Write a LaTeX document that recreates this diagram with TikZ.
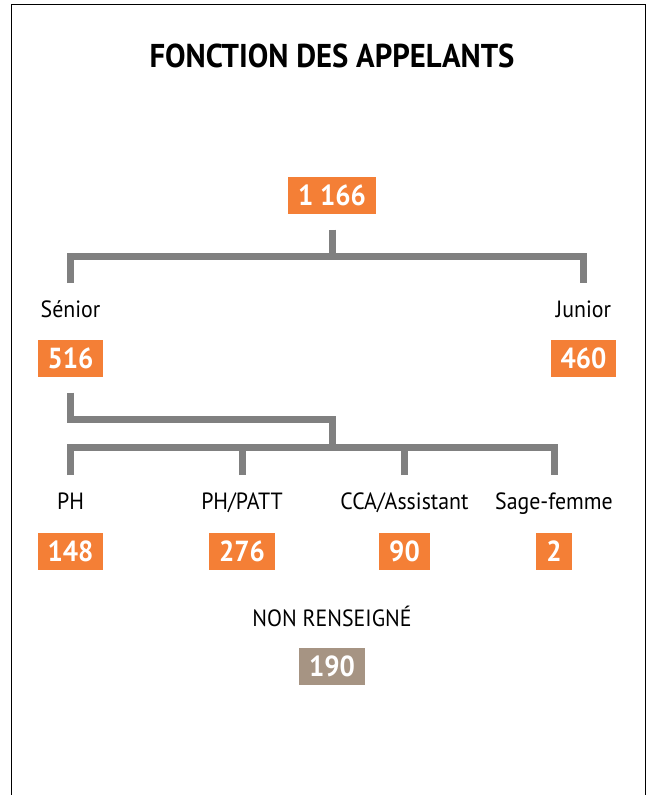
\documentclass[tikz,border=0pt]{standalone}
\usepackage{fontspec}
\setmainfont{PT Sans}[FakeStretch=0.93]
\usepackage{xcolor}
\usepackage{tikz}

\definecolor{boxorange}{RGB}{244,127,54}
\definecolor{boxtaupe}{RGB}{166,148,131}
\definecolor{bargrey}{RGB}{128,128,128}

\begin{document}
\begin{tikzpicture}[x=1pt, y=-1pt,
        num/.style={fill=boxorange, text=white, font=\fontsize{29}{34}\selectfont\bfseries,
            minimum height=37pt, inner xsep=10pt, inner ysep=0pt},
        lab/.style={anchor=base, font=\fontsize{23.5}{28}\selectfont},
        bar/.style={draw=bargrey, line width=7pt}]
    \useasboundingbox (0, 0) rectangle (653, 795);
    \draw[line width=1.5pt] (11.5, 795) -- (11.5, 4.5) -- (645.5, 4.5) -- (645.5, 795);

    \node[anchor=base, font=\fontsize{33}{38}\selectfont\bfseries] at (332, 67) (title) {FONCTION DES APPELANTS};

    \node[num] at (332, 195) (total) {1 166};
    \node[lab] at (70.5, 317) (senior) {Sénior};
    \node[lab] at (583.5, 317) (junior) {Junior};
    \node[num] at (70.5, 358) (nsenior) {516};
    \node[num] at (583.5, 358) (njunior) {460};

    \node[lab] at (70.5, 509) (ph) {PH};
    \node[lab] at (242, 509) (phpatt) {PH/PATT};
    \node[lab] at (404.5, 509) (cca) {CCA/Assistant};
    \node[lab] at (554, 509) (sage) {Sage-femme};
    \node[num] at (70.5, 551) (nph) {148};
    \node[num] at (242, 551) (nphpatt) {276};
    \node[num] at (404.5, 551) (ncca) {90};
    \node[num] at (554, 551) (nsage) {2};

    \node[lab] at (332, 626) (nr) {NON RENSEIGNÉ};
    \node[num, fill=boxtaupe] at (332, 666.5) (nnr) {190};

    % senior / junior
    \draw[bar] ([yshift=-16pt]total.south) -- ++(0, 27) coordinate (fork);
    \draw[bar] ([yshift=34pt]senior.base) |- (fork) -| ([yshift=34pt]junior.base);

    % senior split
    \coordinate (split) at (332, 447);
    \draw[bar] ([yshift=-16pt]nsenior.south) |- ([yshift=28pt]split) -- (split);
    \draw[bar] ([yshift=34pt]ph.base) |- (split) -| ([yshift=34pt]sage.base);
    \foreach \n in {phpatt, cca}
        \draw[bar] ([yshift=34pt]\n.base) -- (\n.base |- split);
\end{tikzpicture}
\end{document}
